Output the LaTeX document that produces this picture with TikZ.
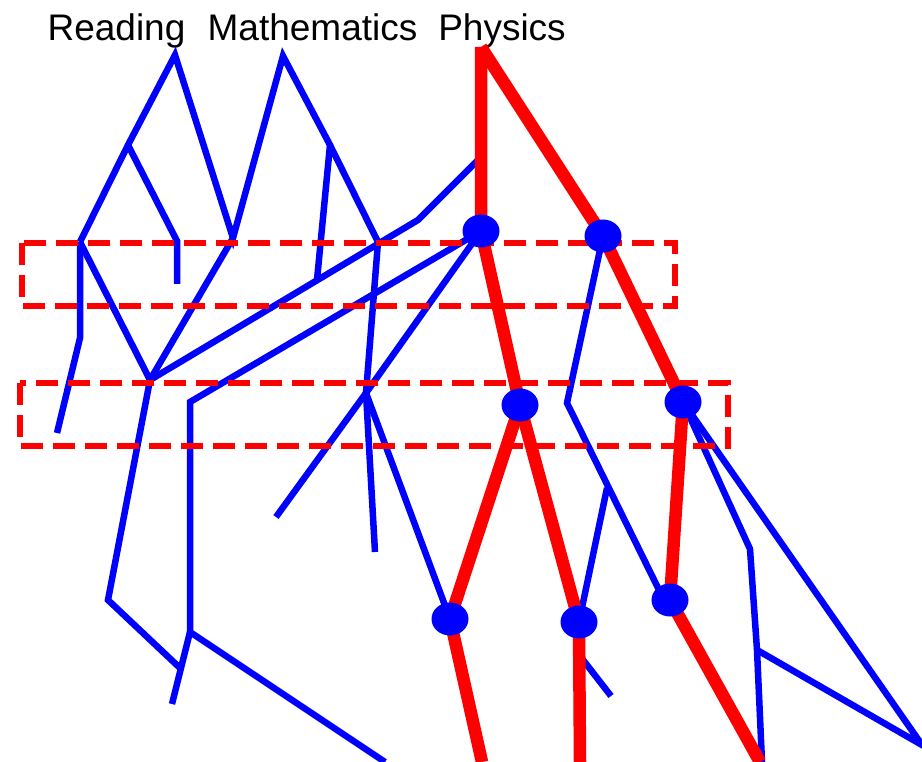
\documentclass[tikz,border=0pt]{standalone}
\usepackage{fontspec}
\setmainfont{Liberation Sans}
\usetikzlibrary{shapes.geometric}

\begin{document}
\begin{tikzpicture}[x=1pt,y=-1pt,
  blueline/.style={blue,line width=6.5pt},
  redline/.style={red,line width=12.5pt},
  cutbox/.style={red,line width=5.5pt,dash pattern=on 22pt off 10pt},
  dot/.style={ellipse,fill=blue,inner sep=0pt,minimum width=37pt,minimum height=33pt},
  subject/.style={anchor=base,inner sep=0pt,font=\fontsize{37}{44}\selectfont}]
\useasboundingbox (0,0) rectangle (922,762);
% ---------- subjects ----------
\node[subject] (reading) at (116.5,41) {Reading};
\node[subject] (maths) at (312.5,41) {Mathematics};
\node[subject] (physics) at (502,41) {Physics};
% ---------- junctions ----------
\coordinate (rtop) at (175,55);
\coordinate (ra) at (128,145);
\coordinate (rb) at (80,242);
\coordinate (rc) at (177,241);
\coordinate (rd) at (177,284);
\coordinate (re) at (80,338);
\coordinate (rf) at (57,433);
\coordinate (mtop) at (283,56);
\coordinate (ma) at (233,238);
\coordinate (mb) at (330,145);
\coordinate (mc) at (378,242);
\coordinate (md) at (317,280);
\coordinate (ja) at (150,380);
\coordinate (jb) at (418,220);
\coordinate (jc) at (480,158);
\coordinate (jd) at (108,600);
\coordinate (je) at (180,668);
\coordinate (ka) at (190,402);
\coordinate (kb) at (190,632);
\coordinate (kc) at (385,762);
\coordinate (kd) at (172,704);
\coordinate (sa) at (366,393);
\coordinate (sb) at (276,517);
\coordinate (sc) at (375,552);
\coordinate (ptop) at (481,47);
\coordinate (p1) at (481,231);
\coordinate (p2) at (603,236);
\coordinate (p3) at (520,405);
\coordinate (p4) at (683,402);
\coordinate (p5) at (450,619);
\coordinate (p6) at (579,622);
\coordinate (p7) at (670,600);
\coordinate (pa) at (482,762);
\coordinate (pb) at (580,762);
\coordinate (pc) at (760,762);
\coordinate (qa) at (567,403);
\coordinate (qb) at (607,488);
\coordinate (qc) at (661,594);
\coordinate (qd) at (580,656);
\coordinate (qe) at (611,696);
\coordinate (ta) at (750,549);
\coordinate (tb) at (757,650);
\coordinate (tc) at (762,762);
\coordinate (td) at (922,745);
% ---------- blue branches ----------
\draw[blueline] (rb) -- (ra) -- (rtop) -- (ma) -- (mtop) -- (mb) -- (mc);
\draw[blueline] (ra) -- (rc) -- (rd);
\draw[blueline] (rb) -- (re) -- (rf);
\draw[blueline] (rb) -- (ja) -- (ma);
\draw[blueline] (ja) -- (jb) -- (jc);
\draw[blueline] (mb) -- (md);
\draw[blueline] (mc) -- (sa) -- (sb);
\draw[blueline] (sa) -- (sc);
\draw[blueline] (p1) -- (sa) -- (p5);
\draw[blueline] (p1) -- (ka) -- (kb) -- (kc);
\draw[blueline] (kb) -- (kd);
\draw[blueline] (ja) -- (jd) -- (je);
\draw[blueline] (p2) -- (qa) -- (qc);
\draw[blueline] (qb) -- (p6);
\draw[blueline] (qd) -- (qe);
\draw[blueline] (p4) -- (ta) -- (tb) -- (tc);
\draw[blueline] (tb) -- (td) -- (p4);
% ---------- red paths ----------
\draw[redline] (ptop) -- (p1) -- (p3) -- (p5) -- (pa);
\draw[redline] (ptop) -- (p2) -- (p4) -- (p7) -- (pc);
\draw[redline] (p3) -- (p6) -- (pb);
% ---------- dashed boxes ----------
\draw[cutbox] (22,243) rectangle (675,306);
\draw[cutbox] (20,383) rectangle (728,446);
% ---------- dots ----------
\node[dot] (d1) at (p1) {};
\node[dot] (d2) at (p2) {};
\node[dot] (d3) at (p3) {};
\node[dot] (d4) at (p4) {};
\node[dot] (d5) at (p5) {};
\node[dot] (d6) at (p6) {};
\node[dot] (d7) at (p7) {};
\end{tikzpicture}
\end{document}
